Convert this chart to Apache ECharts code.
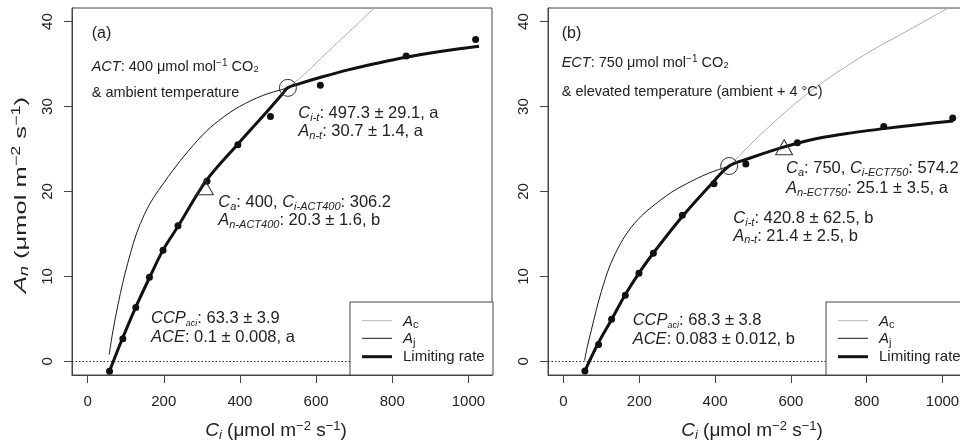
<!DOCTYPE html>
<html><head><meta charset="utf-8">
<script src="https://cdn.jsdelivr.net/npm/echarts@6/dist/echarts.min.js"></script>
<style>html,body{margin:0;padding:0;background:#fff}#c{width:960px;height:441px}</style>
</head><body><div id="c"></div><script>
// ---------- Panel (a): ACT ----------
const obsCi_a = [57.6, 92.5, 126.5, 162.4, 198, 237.4, 313.4, 394.6, 480.2, 611.2, 836.5, 1019];
const obsAn_a = [-1.17, 2.66, 6.34, 9.9, 13.07, 15.96, 21.2, 25.5, 28.84, 32.5, 35.95, 37.9];
const acCi_a = [57, 92, 126.5, 163, 198, 237.5, 312, 395, 469, 512, 525, 557, 620, 687, 753, 790];
const acAn_a = [-1.2, 2.75, 6.4, 9.9, 13.1, 15.9, 21.3, 25.6, 29.3, 31.5, 32.2, 33.3, 36.0, 38.8, 41.6, 43.0];
const ajCi_a = [56.6, 65, 75, 86, 98, 113, 128, 150, 172, 200, 224, 265, 312, 355, 399, 460, 525, 557, 617, 687, 760, 836, 930, 1028];
const ajAn_a = [0.8, 3.2, 5.6, 8.0, 10.3, 12.8, 15.0, 17.4, 19.2, 21.0, 22.5, 24.8, 27.1, 28.7, 30.0, 31.3, 32.2, 32.7, 33.5, 34.35, 35.1, 35.8, 36.5, 37.1];
const limCi_a = [57, 92, 126.5, 163, 198, 237.5, 312, 395, 469, 512, 525, 557, 617, 687, 760, 836, 930, 1028];
const limAn_a = [-1.2, 2.75, 6.4, 9.9, 13.1, 15.9, 21.3, 25.6, 29.3, 31.5, 32.2, 32.7, 33.5, 34.35, 35.1, 35.8, 36.5, 37.1];
const triangle_a = [308, 20.5];
const circle_a = [526, 32.2];

// ---------- Panel (b): ECT ----------
const obsCi_b = [56.3, 92.5, 126.8, 163, 199, 237, 313.5, 397, 481, 617, 845, 1027];
const obsAn_b = [-1.14, 2.0, 4.97, 7.8, 10.38, 12.73, 17.2, 20.9, 23.25, 25.75, 27.65, 28.65];
const acCi_b = [57, 90.8, 127.7, 163, 199, 236, 315, 394.5, 437, 544, 655, 791, 923, 1015, 1045];
const acAn_b = [-1.06, 2.08, 5.0, 7.87, 10.4, 12.7, 17.15, 21.1, 23.0, 27.7, 31.9, 36.0, 39.3, 41.6, 42.3];
const ajCi_b = [55.5, 62, 73, 86, 99.6, 120, 143.5, 172, 205, 236, 284.5, 324, 380, 437, 483, 571, 615, 676, 760, 844, 940, 1028];
const ajAn_b = [0.1, 1.6, 3.6, 6.0, 8.2, 11.0, 13.3, 15.4, 17.1, 18.3, 19.9, 20.9, 22.1, 23.0, 23.8, 25.1, 25.65, 26.3, 26.9, 27.4, 27.9, 28.3];
const limCi_b = [57, 90.8, 127.7, 163, 199, 236, 315, 394.5, 437, 483, 571, 615, 676, 760, 844, 940, 1028];
const limAn_b = [-1.06, 2.08, 5.0, 7.87, 10.4, 12.7, 17.15, 21.1, 23.0, 23.8, 25.1, 25.65, 26.3, 26.9, 27.4, 27.9, 28.3];
const triangle_b = [582, 25.2];
const circle_b = [437, 23.0];

// ---------- Axes ----------
const xTicks = [0, 200, 400, 600, 800, 1000];
const yTicks = [0, 10, 20, 30, 40];

const FF = '"Liberation Sans", Arial, Helvetica, sans-serif';
const TXT = '#222';
const AX = '#444';
const pairs = (xs, ys) => xs.map((x, i) => [x, ys[i]]);

function xAx(gi) {
  return {
    type: 'value', gridIndex: gi, min: -41, max: 1062,
    axisLine: { show: true, onZero: false, lineStyle: { color: AX, width: 1 } },
    axisTick: { show: true, length: 8, lineStyle: { color: AX }, customValues: xTicks },
    axisLabel: { customValues: xTicks, margin: 19, color: TXT, fontSize: 15, fontFamily: FF, formatter: v => String(v) },
    splitLine: { show: false }
  };
}
function yAx(gi) {
  return {
    type: 'value', gridIndex: gi, min: -1.6, max: 41.6,
    axisLine: { show: true, onZero: false, lineStyle: { color: AX, width: 1 } },
    axisTick: { show: true, length: 8, lineStyle: { color: AX }, customValues: yTicks },
    axisLabel: { customValues: yTicks, rotate: 90, margin: 17, color: TXT, fontSize: 15, fontFamily: FF, formatter: v => String(v) },
    splitLine: { show: false }
  };
}

function panelSeries(gi, d) {
  const sm = 0.35;
  return [
    { type: 'line', xAxisIndex: gi, yAxisIndex: gi, data: pairs(d.acCi, d.acAn), symbol: 'none',
      smooth: sm, lineStyle: { color: '#adadad', width: 1 }, z: 2, silent: true,
      markLine: { silent: true, symbol: 'none', label: { show: false },
        lineStyle: { type: [1.5, 2], color: '#333', width: 1 }, data: [{ yAxis: 0 }] } },
    { type: 'line', xAxisIndex: gi, yAxisIndex: gi, data: pairs(d.ajCi, d.ajAn), symbol: 'none',
      smooth: sm, lineStyle: { color: '#1a1a1a', width: 1 }, z: 3, silent: true },
    { type: 'line', xAxisIndex: gi, yAxisIndex: gi, data: pairs(d.limCi, d.limAn), symbol: 'none',
      smooth: sm, lineStyle: { color: '#111', width: 3 }, z: 4, silent: true },
    { type: 'scatter', xAxisIndex: gi, yAxisIndex: gi, data: pairs(d.obsCi, d.obsAn), symbolSize: 7,
      itemStyle: { color: '#111', opacity: 1 }, z: 5, silent: true },
    { type: 'scatter', xAxisIndex: gi, yAxisIndex: gi, data: [d.tri], symbol: 'triangle', symbolSize: [17, 15],
      itemStyle: { color: 'rgba(0,0,0,0)', borderColor: '#333', borderWidth: 1, opacity: 1 }, z: 6, silent: true },
    { type: 'scatter', xAxisIndex: gi, yAxisIndex: gi, data: [d.cir], symbol: 'circle', symbolSize: 17,
      itemStyle: { color: 'rgba(0,0,0,0)', borderColor: '#333', borderWidth: 1, opacity: 1 }, z: 6, silent: true }
  ];
}

// ---------- Text helpers ----------
function f(size, italic) { return (italic ? 'italic ' : '') + size + 'px ' + FF; }
function richSet(size) {
  return {
    n: { font: f(size, false), fill: TXT, lineHeight: size + 3 },
    it: { font: f(size, true), fill: TXT, lineHeight: size + 3 },
    sub: { font: f(Math.round(size * 0.68), true), fill: TXT, verticalAlign: 'bottom', lineHeight: Math.round(size * 0.72) },
    subs: { font: f(Math.round(size * 0.56), true), fill: TXT, verticalAlign: 'bottom', lineHeight: Math.round(size * 0.62) },
    subn: { font: f(Math.round(size * 0.7), false), fill: TXT, verticalAlign: 'bottom', lineHeight: Math.round(size * 0.72) },
    sup: { font: f(Math.round(size * 0.7), false), fill: TXT, verticalAlign: 'top', lineHeight: Math.round(size * 0.75) }
  };
}
function txt(x, y, text, size, align) {
  return {
    type: 'text', x: x, y: y, z: 50, silent: true,
    style: { text: text, rich: richSet(size), font: f(size, false), fill: TXT, align: align || 'left', verticalAlign: 'middle' }
  };
}

function legend(x0, y0, w, h) {
  const lx1 = x0 + 12, lx2 = x0 + 42, tx = x0 + 53;
  const ys = [y0 + 18.7, y0 + 36.3, y0 + 54.7];
  const items = [
    { type: 'rect', z: 100, silent: true, shape: { x: x0, y: y0, width: w, height: h },
      style: { fill: '#fff', stroke: AX, lineWidth: 1 } },
    { type: 'line', z: 101, silent: true, shape: { x1: lx1, y1: ys[0], x2: lx2, y2: ys[0] }, style: { stroke: '#b5b5b5', lineWidth: 1 } },
    { type: 'line', z: 101, silent: true, shape: { x1: lx1, y1: ys[1], x2: lx2, y2: ys[1] }, style: { stroke: '#1a1a1a', lineWidth: 1 } },
    { type: 'line', z: 101, silent: true, shape: { x1: lx1, y1: ys[2], x2: lx2, y2: ys[2] }, style: { stroke: '#111', lineWidth: 3 } }
  ];
  const t1 = txt(tx, ys[0] + 1, '{it|A}{subn|c}', 15); t1.z = 101;
  const t2 = txt(tx, ys[1] + 1, '{it|A}{subn|j}', 15); t2.z = 101;
  const t3 = txt(tx, ys[2], '{n|Limiting rate}', 15); t3.z = 101;
  return items.concat([t1, t2, t3]);
}

const unitTxt = '{n| (μmol m}{sup|−2}{n| s}{sup|−1}{n|)}';
const yTitle = txt(21, 195, '{it|A}{sub|n}' + unitTxt, 17, 'center');
yTitle.rotation = Math.PI / 2;
yTitle.scaleX = 1.5;

const graphics = [
  yTitle,
  txt(276, 431, '{it|C}{sub|i}' + unitTxt, 19, 'center'),
  txt(752, 431, '{it|C}{sub|i}' + unitTxt, 19, 'center'),
  // panel a
  txt(91.7, 33.3, '{n|(a)}', 16),
  txt(91.7, 66.7, '{it|ACT}{n|: 400 μmol mol}{sup|−1}{n| CO₂}', 14.5),
  txt(91.7, 92.7, '{n|& ambient temperature}', 14.5),
  txt(298.3, 113.3, '{it|C}{sub|i-t}{n|: 497.3 ± 29.1, a}', 16.5),
  txt(298.3, 131.7, '{it|A}{sub|n-t}{n|: 30.7 ± 1.4, a}', 16.5),
  txt(218.3, 202.7, '{it|C}{sub|a}{n|: 400, }{it|C}{sub|i-ACT400}{n|: 306.2}', 16.5),
  txt(218.3, 220.8, '{it|A}{sub|n-ACT400}{n|: 20.3 ± 1.6, b}', 16.5),
  txt(151, 318.3, '{it|CCP}{subs|aci}{n|: 63.3 ± 3.9}', 16.5),
  txt(151, 337.3, '{it|ACE}{n|: 0.1 ± 0.008, a}', 16.5),
  // panel b
  txt(561.7, 33.3, '{n|(b)}', 16),
  txt(561.7, 63.3, '{it|ECT}{n|: 750 μmol mol}{sup|−1}{n| CO₂}', 14.5),
  txt(561.7, 91.7, '{n|& elevated temperature (ambient + 4 °C)}', 14.5),
  txt(786, 168.3, '{it|C}{sub|a}{n|: 750, }{it|C}{sub|i-ECT750}{n|: 574.2}', 16.5),
  txt(786, 188.3, '{it|A}{sub|n-ECT750}{n|: 25.1 ± 3.5, a}', 16.5),
  txt(733.3, 218.5, '{it|C}{sub|i-t}{n|: 420.8 ± 62.5, b}', 16.5),
  txt(733.3, 236, '{it|A}{sub|n-t}{n|: 21.4 ± 2.5, b}', 16.5),
  txt(632.7, 320, '{it|CCP}{subs|aci}{n|: 68.3 ± 3.8}', 16.5),
  txt(632.7, 339.3, '{it|ACE}{n|: 0.083 ± 0.012, b}', 16.5)
].concat(legend(350, 302, 143, 73), legend(826, 302, 150, 73));

const chart = echarts.init(document.getElementById('c'), null, { renderer: 'canvas' });
chart.setOption({
  animation: false,
  backgroundColor: '#fff',
  grid: [
    { left: 72, top: 8, width: 420, height: 367, show: true, borderColor: AX, borderWidth: 1, containLabel: false, outerBoundsMode: 'none' },
    { left: 548, top: 8, width: 418, height: 367, show: true, borderColor: AX, borderWidth: 1, containLabel: false, outerBoundsMode: 'none' }
  ],
  xAxis: [xAx(0), xAx(1)],
  yAxis: [yAx(0), yAx(1)],
  series: panelSeries(0, { acCi: acCi_a, acAn: acAn_a, ajCi: ajCi_a, ajAn: ajAn_a, limCi: limCi_a, limAn: limAn_a,
                           obsCi: obsCi_a, obsAn: obsAn_a, tri: triangle_a, cir: circle_a })
    .concat(panelSeries(1, { acCi: acCi_b, acAn: acAn_b, ajCi: ajCi_b, ajAn: ajAn_b, limCi: limCi_b, limAn: limAn_b,
                             obsCi: obsCi_b, obsAn: obsAn_b, tri: triangle_b, cir: circle_b })),
  graphic: graphics
});
</script></body></html>
